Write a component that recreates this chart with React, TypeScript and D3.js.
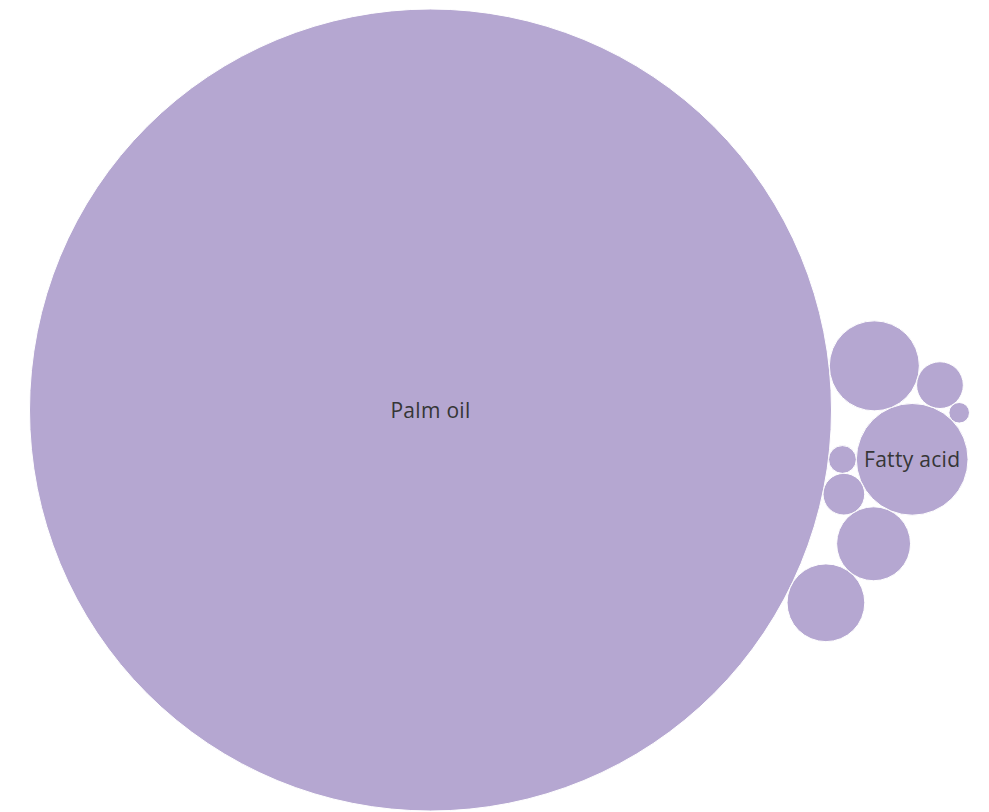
import React from "react";
import * as d3 from "d3";

// ---- Data ----
const names = [
  "Palm oil",
  "Fatty acid",
  "Palm kernel oil",
  "Stearin",
  "Olein",
  "Glycerol",
  "Soap",
  "Biodiesel",
  "Margarine",
];
const values = [1000, 19.4, 12.6, 9.4, 8.5, 3.4, 2.7, 1.2, 0.66];
const labelThreshold = 15;

// ---- Packing topology: each bubble (after the first two) sits tangent to two earlier ones ----
// order of placement, by index into names/values
const placeOrder = [0, 7, 6, 1, 2, 4, 3, 5, 8];
// tangent partners [a, b] and side for each placed bubble (index-based)
const tangentA = [-1, 0, 0, 7, 0, 6, 0, 2, 5];
const tangentB = [-1, -1, 7, 6, 1, 1, 4, 1, 1];
const tangentSide = [0, 0, 1, -1, -1, 1, 1, -1, -1];
const firstAngleDeg = 6.85;

const W = 989;
const H = 812;
const FILL = "#b5a7d1";
const TEXT = "#363636";

type Node = { name: string; value: number; r: number; x: number; y: number };

function layout(): Node[] {
  const rScale = d3.scaleSqrt().domain([0, d3.max(values) as number]).range([0, 401]);
  const nodes: Node[] = names.map((n, i) => ({ name: n, value: values[i], r: rScale(values[i]), x: 0, y: 0 }));
  placeOrder.forEach((idx, k) => {
    const c = nodes[idx];
    if (k === 0) {
      c.x = 0;
      c.y = 0;
      return;
    }
    if (k === 1) {
      const a = nodes[tangentA[k]];
      const ang = (firstAngleDeg * Math.PI) / 180;
      c.x = a.x + (a.r + c.r) * Math.cos(ang);
      c.y = a.y + (a.r + c.r) * Math.sin(ang);
      return;
    }
    const a = nodes[tangentA[k]];
    const b = nodes[tangentB[k]];
    const dx = b.x - a.x;
    const dy = b.y - a.y;
    const d = Math.hypot(dx, dy);
    const da = a.r + c.r;
    const db = b.r + c.r;
    const ux = dx / d;
    const uy = dy / d;
    const x = (d * d + da * da - db * db) / (2 * d);
    const h = Math.sqrt(Math.max(0, da * da - x * x));
    const s = tangentSide[k];
    c.x = a.x + x * ux + s * h * -uy;
    c.y = a.y + x * uy + s * h * ux;
  });
  const x0 = d3.min(nodes, (n) => n.x - n.r) as number;
  const x1 = d3.max(nodes, (n) => n.x + n.r) as number;
  const y0 = d3.min(nodes, (n) => n.y - n.r) as number;
  const y1 = d3.max(nodes, (n) => n.y + n.r) as number;
  const cx = 499.5 - (x0 + x1) / 2;
  const cy = 410 - (y0 + y1) / 2;
  nodes.forEach((n) => {
    n.x += cx;
    n.y += cy;
  });
  return nodes;
}

export default function App() {
  const nodes = layout();
  return (
    <svg
      width={W}
      height={H}
      style={{ position: "absolute", left: 0, top: 0, display: "block", background: "#ffffff" }}
    >
      {nodes.map((n) => (
        <circle key={n.name} cx={n.x} cy={n.y} r={n.r} fill={FILL} stroke="#ffffff" strokeWidth={1} />
      ))}
      {nodes
        .filter((n) => n.value >= labelThreshold)
        .map((n) => (
          <text
            key={"t" + n.name}
            x={n.x}
            y={n.y}
            textAnchor="middle"
            dominantBaseline="central"
            fill={TEXT}
            style={{ fontFamily: "'Open Sans', sans-serif", fontSize: 21, fontWeight: 500, letterSpacing: 0.3 }}
          >
            {n.name}
          </text>
        ))}
    </svg>
  );
}
